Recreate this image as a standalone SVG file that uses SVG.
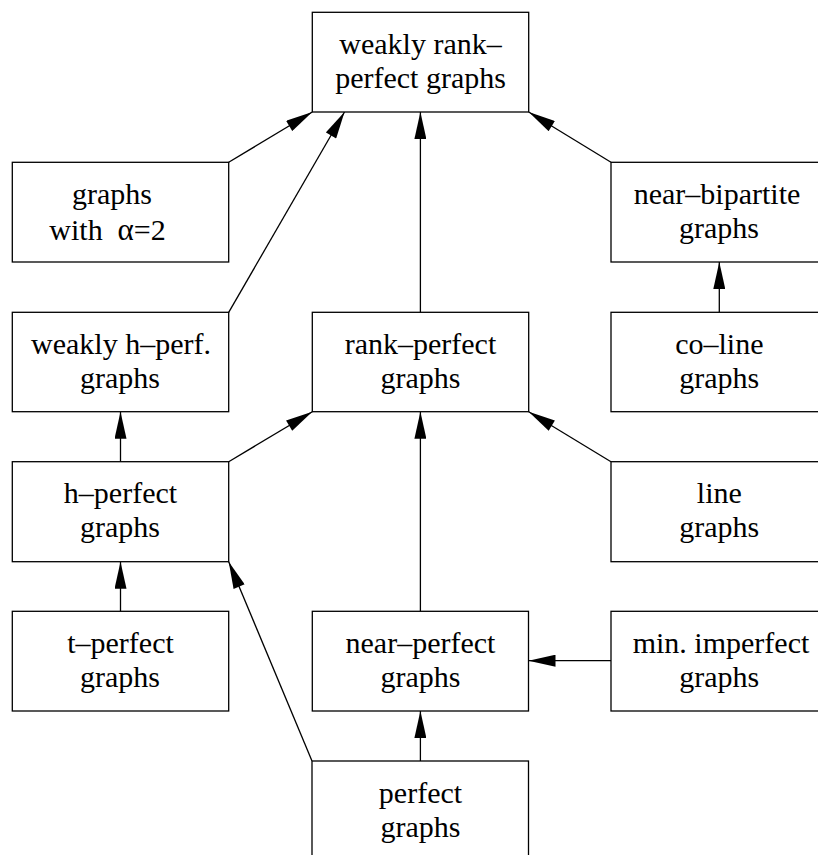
<svg xmlns="http://www.w3.org/2000/svg" width="818" height="855" viewBox="0 0 818 855">
<style>
.box{fill:#fff;stroke:#000;stroke-width:1.3}
.t{font-family:"Liberation Serif","Times New Roman",serif;font-size:30px;fill:#000;text-anchor:middle}
.e{stroke:#000;stroke-width:1.3;fill:none;marker-end:url(#ah)}
</style>
<defs>
<marker id="ah" markerUnits="userSpaceOnUse" markerWidth="28" markerHeight="12" viewBox="0 0 27 12" refX="27" refY="6" orient="auto">
<path d="M0,0 L27,6 L0,12 z" fill="#000"/>
</marker>
</defs>
<rect width="818" height="855" fill="#fff"/>
<g id="connectors">
<line class="e" x1="228.7" y1="162.3" x2="312.3" y2="112"/>
<line class="e" x1="228.7" y1="312.3" x2="344.5" y2="112"/>
<line class="e" x1="420.4" y1="312.3" x2="420.4" y2="112"/>
<line class="e" x1="611" y1="162.3" x2="528.7" y2="112"/>
<line class="e" x1="719.3" y1="312.3" x2="719.3" y2="262"/>
<line class="e" x1="120.5" y1="461.7" x2="120.5" y2="411.7"/>
<line class="e" x1="228.7" y1="461.7" x2="312.3" y2="411.7"/>
<line class="e" x1="611" y1="461.7" x2="528.7" y2="411.7"/>
<line class="e" x1="420.4" y1="611.3" x2="420.4" y2="411.7"/>
<line class="e" x1="120.5" y1="611.3" x2="120.5" y2="561.7"/>
<line class="e" x1="312" y1="761" x2="228.7" y2="561.7"/>
<line class="e" x1="611" y1="660.7" x2="528.5" y2="660.7"/>
<line class="e" x1="420.4" y1="761" x2="420.4" y2="711"/>
</g>
<g id="weakly-rank-perfect">
<rect class="box" x="312.3" y="12.3" width="216.4" height="99.7"/>
<text class="t" x="420.5" y="53.5">weakly rank–</text>
<text class="t" x="420.5" y="87.5">perfect graphs</text>
</g>
<g id="alpha2">
<rect class="box" x="12.3" y="162.3" width="216.4" height="99.7"/>
<text class="t" x="112" y="204">graphs</text>
<text class="t" y="240" style="text-anchor:start"><tspan x="49.3">with</tspan><tspan x="117.5" font-size="31">α</tspan><tspan>=2</tspan></text>
</g>
<g id="near-bipartite">
<rect class="box" x="611" y="162.3" width="216.6" height="99.7"/>
<text class="t" x="717" y="204">near–bipartite</text>
<text class="t" x="719" y="238">graphs</text>
</g>
<g id="weakly-h-perf">
<rect class="box" x="12.3" y="312.3" width="216.4" height="99.4"/>
<text class="t" x="121" y="353.8">weakly h–perf.</text>
<text class="t" x="120" y="387.8">graphs</text>
</g>
<g id="rank-perfect">
<rect class="box" x="312.3" y="312.3" width="216.4" height="99.4"/>
<text class="t" x="420.5" y="353.8">rank–perfect</text>
<text class="t" x="420.5" y="387.8">graphs</text>
</g>
<g id="co-line">
<rect class="box" x="611" y="312.3" width="216.6" height="99.4"/>
<text class="t" x="719.3" y="353.8">co–line</text>
<text class="t" x="719.3" y="387.8">graphs</text>
</g>
<g id="h-perfect">
<rect class="box" x="12.3" y="461.7" width="216.4" height="100"/>
<text class="t" x="120.5" y="503.2">h–perfect</text>
<text class="t" x="120" y="537.2">graphs</text>
</g>
<g id="line">
<rect class="box" x="611" y="461.7" width="216.6" height="100"/>
<text class="t" x="719.3" y="503.2">line</text>
<text class="t" x="719.3" y="537.2">graphs</text>
</g>
<g id="t-perfect">
<rect class="box" x="12.3" y="611.3" width="216.4" height="99.7"/>
<text class="t" x="120.5" y="652.8">t–perfect</text>
<text class="t" x="120" y="686.8">graphs</text>
</g>
<g id="near-perfect">
<rect class="box" x="312.3" y="611.3" width="216.2" height="99.7"/>
<text class="t" x="420.5" y="652.8">near–perfect</text>
<text class="t" x="420.5" y="686.8">graphs</text>
</g>
<g id="min-imperfect">
<rect class="box" x="611" y="611.3" width="216.6" height="99.7"/>
<text class="t" x="721" y="652.8">min. imperfect</text>
<text class="t" x="719.3" y="686.8">graphs</text>
</g>
<g id="perfect">
<rect class="box" x="312" y="761" width="216.5" height="99.7"/>
<text class="t" x="420.5" y="802.5">perfect</text>
<text class="t" x="420.5" y="836.5">graphs</text>
</g>
</svg>
